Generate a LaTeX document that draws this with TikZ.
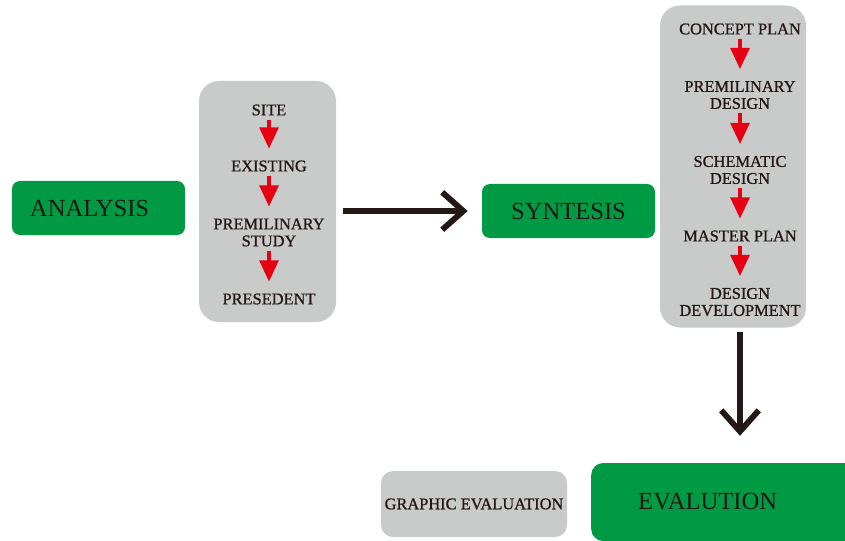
\documentclass[tikz,border=0pt]{standalone}
\usepackage{fontspec}
\setmainfont{Liberation Serif}
\newfontfamily\stepfont[FakeBold=0.9]{Liberation Serif}
\usetikzlibrary{arrows.meta}
\definecolor{boxgreen}{HTML}{009A44}
\definecolor{boxgray}{HTML}{C9CACA}
\definecolor{arrowred}{HTML}{E60012}
\definecolor{inkdark}{HTML}{231815}

\begin{document}
\begin{tikzpicture}[x=0.03cm,y=-0.03cm,
  every node/.style={inner sep=0pt, text=inkdark},
  greenbox/.style={fill=boxgreen, rounded corners=0.24cm, font=\fontsize{21}{24}\selectfont},
  panel/.style={fill=boxgray, rounded corners=0.6cm},
  steptext/.style={font=\stepfont\fontsize{14}{14.5}\selectfont, align=center},
  redarrow/.style={draw=arrowred, line width=3pt, -{Triangle[length=18pt,width=16pt]},
    shorten <=3.4pt, shorten >=10pt},
  blackarrow/.style={draw=inkdark, line width=5pt, -{Straight Barb[length=18pt,width=32pt]}}]
\useasboundingbox (0,0) rectangle (845,541);
\clip (0,0) rectangle (845,541);

% green stages
\node (analysis) [greenbox, minimum width=5.19cm, minimum height=1.62cm,
  inner xsep=0.54cm, text width=4.11cm, align=left] at (98.5,208) {ANALYSIS};
\node (synt) [greenbox, minimum width=5.19cm, minimum height=1.62cm] at (568.5,211) {SYNTESIS};
\node (evalution) [greenbox, anchor=west, minimum height=2.34cm, rounded corners=0.36cm,
  inner xsep=1.41cm, text width=6cm, align=left] at (591,502) {EVALUTION};

% gray panels
\node (panelA) [panel, minimum width=4.11cm, minimum height=7.23cm] at (267.5,201.5) {};
\node (panelB) [panel, minimum width=4.38cm, minimum height=9.66cm] at (733,166.5) {};
\node (graphic) [panel, rounded corners=0.36cm, minimum width=5.58cm, minimum height=1.98cm,
  font=\stepfont\fontsize{14}{14}\selectfont] at (474,504) {GRAPHIC EVALUATION};

% analysis steps
\node (site) [steptext] at (269,110) {SITE};
\node (exist) [steptext] at (269,166) {EXISTING};
\node (prestudy) [steptext] at (269,232.5) {PREMILINARY\\STUDY};
\node (presedent) [steptext] at (269,299) {PRESEDENT};
\draw [redarrow] (site) -- (exist);
\draw [redarrow] (exist) -- (prestudy);
\draw [redarrow] (prestudy) -- (presedent);

% synthesis steps
\node (concept) [steptext] at (740,29) {CONCEPT PLAN};
\node (predesign) [steptext] at (740,95) {PREMILINARY\\DESIGN};
\node (schematic) [steptext] at (740,170) {SCHEMATIC\\DESIGN};
\node (master) [steptext] at (740,236) {MASTER PLAN};
\node (devel) [steptext] at (740,302) {DESIGN\\DEVELOPMENT};
\draw [redarrow] (concept) -- (predesign);
\draw [redarrow] (predesign) -- (schematic);
\draw [redarrow] (schematic) -- (master);
\draw [redarrow] (master) -- (devel);

\draw [blackarrow, shorten <=6pt, shorten >=12pt] (panelA.east |- synt.west) -- (synt.west);
\draw [blackarrow, shorten <=3.4pt, shorten >=23pt] (devel |- panelB.south) -- (devel |- evalution.north);
\end{tikzpicture}
\end{document}
